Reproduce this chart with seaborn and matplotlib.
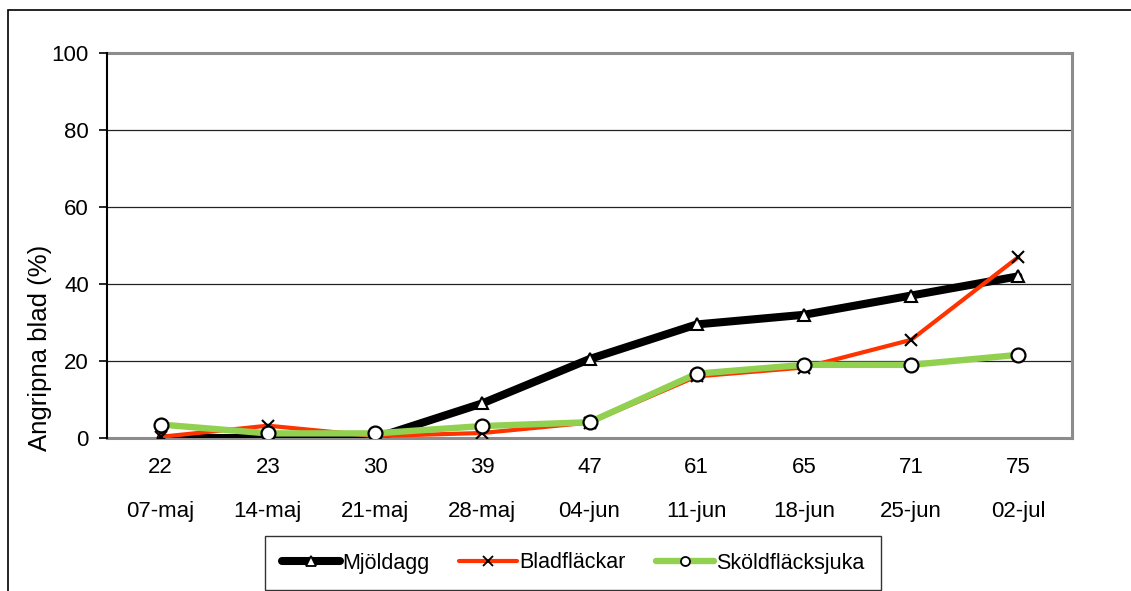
import numpy as np
import pandas as pd
import matplotlib
matplotlib.use("Agg")
import matplotlib.pyplot as plt
import matplotlib.transforms as mtransforms
from matplotlib.patches import Rectangle
import seaborn as sns

# Development stages (top row) and sampling dates (bottom row)
stages = ["22", "23", "30", "39", "47", "61", "65", "71", "75"]
dates = ["07-maj", "14-maj", "21-maj", "28-maj", "04-jun", "11-jun", "18-jun", "25-jun", "02-jul"]

# Share of infected leaves (%)
mjoldagg = [0.0, 0.0, 0.0, 9.0, 20.5, 29.5, 32.0, 37.0, 42.0]
bladflackar = [0.3, 3.2, 0.5, 1.3, 4.0, 16.0, 18.3, 25.5, 47.0]
skoldflacksjuka = [3.5, 1.2, 1.2, 3.1, 4.1, 16.7, 19.0, 19.0, 21.6]

series_names = ["Mjöldagg", "Bladfläckar", "Sköldfläcksjuka"]
series_values = [mjoldagg, bladflackar, skoldflacksjuka]

df = pd.concat(
    [pd.DataFrame({"pos": np.arange(len(stages)), "stage": stages, "value": v, "serie": n})
     for n, v in zip(series_names, series_values)],
    ignore_index=True,
)

sns.set_theme(style="white")
plt.rcParams["font.family"] = ["Liberation Sans", "DejaVu Sans"]
plt.rcParams.update({"text.color": "black", "axes.labelcolor": "black",
                     "xtick.color": "black", "ytick.color": "black"})

TICK_FS = 16

fig = plt.figure(figsize=(11.31, 5.91), dpi=100)
ax = fig.add_axes([107 / 1131, 1 - 438 / 591, (1072 - 107) / 1131, (438 - 53) / 591])

styles = {
    "Mjöldagg": dict(color="black", lw=5.8, marker="^", ms=9, mfc="white", mec="black", mew=1.5),
    "Bladfläckar": dict(color="#FF3300", lw=3.0, marker="x", ms=9, mfc="black", mec="black", mew=1.5),
    "Sköldfläcksjuka": dict(color="#92D050", lw=4.6, marker="o", ms=10, mfc="white", mec="black", mew=1.6),
}

handles = []
for i, name in enumerate(series_names):
    sub = df[df["serie"] == name]
    st = styles[name]
    sns.lineplot(data=sub, x="pos", y="value", ax=ax, color=st["color"], linewidth=st["lw"],
                 marker=st["marker"], markersize=st["ms"], markerfacecolor=st["mfc"],
                 markeredgecolor=st["mec"], markeredgewidth=st["mew"], zorder=3 + i,
                 legend=False, estimator=None)
    handles.append(plt.Line2D([], [], color=st["color"], lw=st["lw"], marker=st["marker"],
                              ms=6.5, mfc=st["mfc"], mec=st["mec"], mew=1.3,
                              label=name))

ax.set_xlim(-0.5, len(stages) - 0.5)
ax.set_ylim(0, 100)
ax.set_yticks([0, 20, 40, 60, 80, 100])
ax.set_xticks(np.arange(len(stages)))
ax.set_xticklabels(stages, fontsize=TICK_FS)
ax.tick_params(axis="x", length=0, pad=14)
ax.tick_params(axis="y", labelsize=TICK_FS, length=6, width=1.2, color="black", direction="out",
               left=True, pad=7)
ax.set_xlabel("")
ax.set_ylabel("Angripna blad (%)", fontsize=18.5)
ax.yaxis.set_label_coords(-0.057, (438 - 348) / 385)

# Horizontal gridlines
for yv in [20, 40, 60, 80]:
    ax.axhline(yv, color="#222222", lw=0.9, zorder=1)

# Frame of the plot area
for side in ["top", "right", "bottom"]:
    ax.spines[side].set_color("#8C8C8C")
    ax.spines[side].set_linewidth(2.2)
ax.spines["left"].set_color("black")
ax.spines["left"].set_linewidth(1.5)
ax.spines["left"].set_zorder(10)

# Second row of category labels: sampling dates
trans = mtransforms.blended_transform_factory(ax.transData, ax.transAxes)
for i, d in enumerate(dates):
    ax.text(i, -(512 - 438) / 385, d, transform=trans, ha="center", va="center",
            fontsize=TICK_FS, color="black")

leg = fig.legend(handles=handles, loc="center", bbox_to_anchor=(573 / 1131, 1 - 563 / 591),
                 ncol=3, fontsize=15.5, frameon=True, fancybox=False, edgecolor="black",
                 handlelength=2.7, handletextpad=0.1, columnspacing=1.4, borderpad=0.75,
                 borderaxespad=0)
leg.get_frame().set_linewidth(1.0)

# Outer chart border
fig.add_artist(Rectangle((8 / 1131, -0.2), 1.2, 1 - 10 / 591 + 0.2, transform=fig.transFigure,
                         fill=False, edgecolor="black", lw=1.2, clip_on=False))

fig.savefig("out.png", dpi=100)
